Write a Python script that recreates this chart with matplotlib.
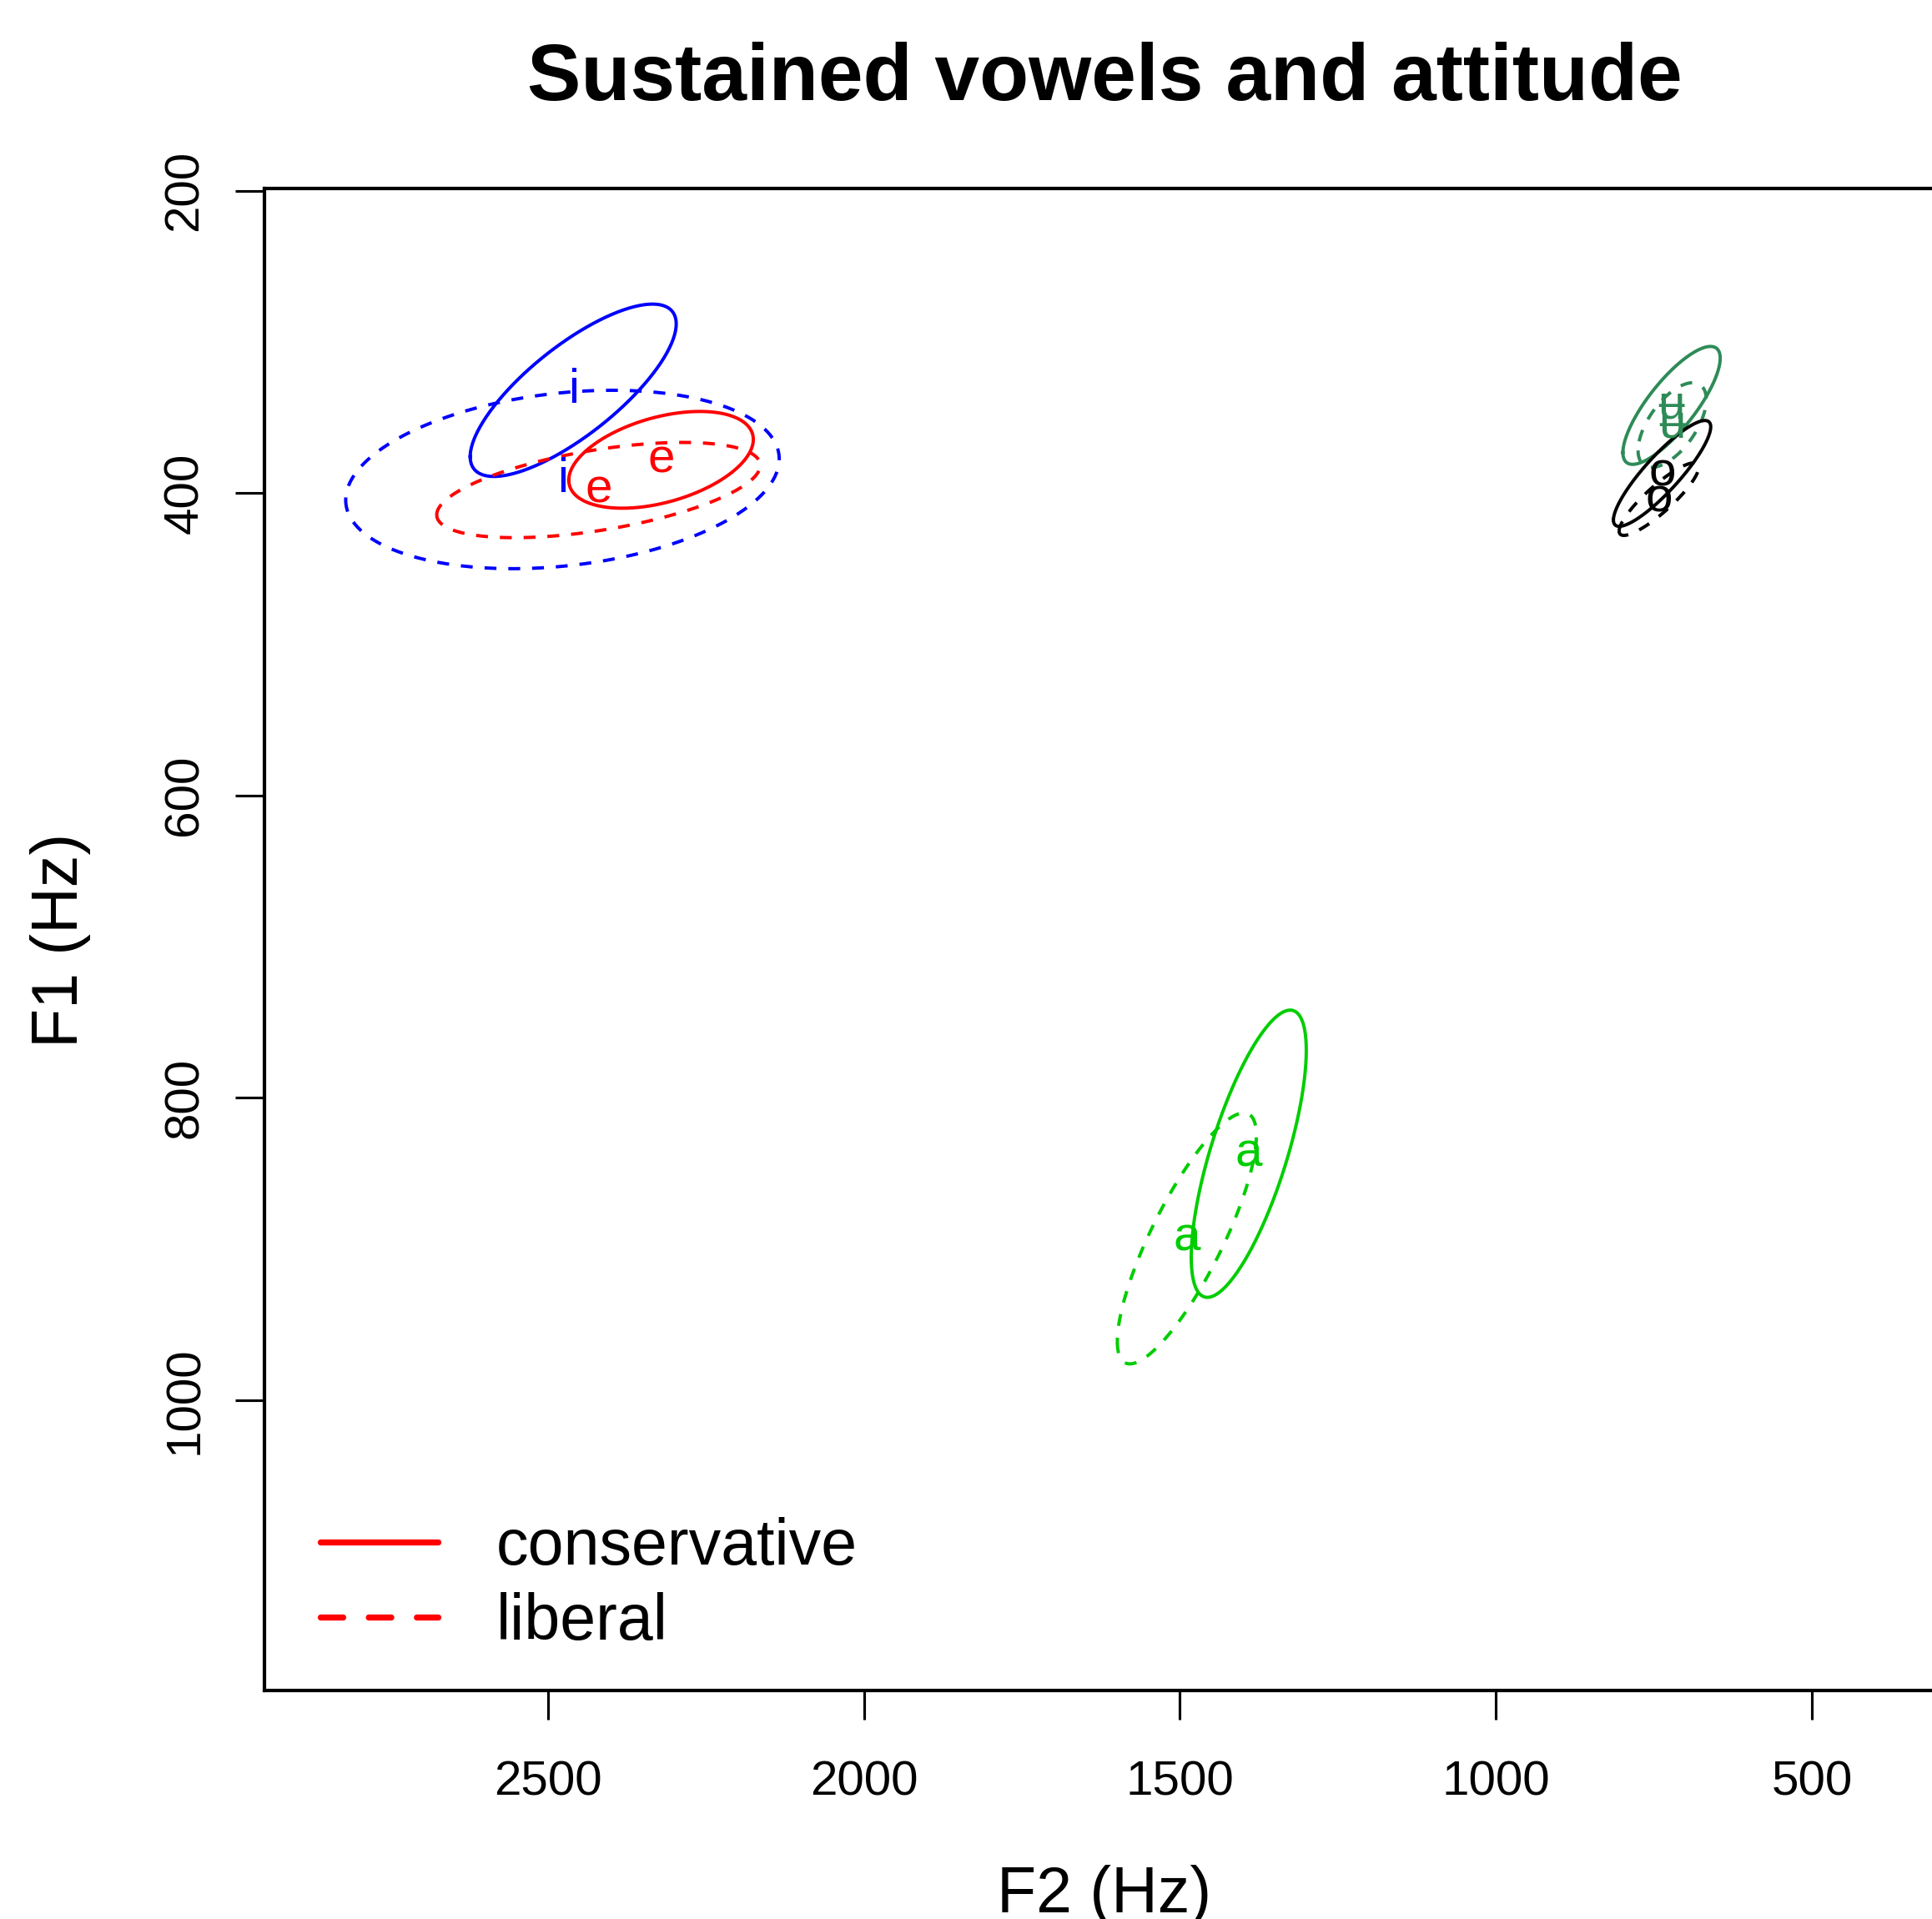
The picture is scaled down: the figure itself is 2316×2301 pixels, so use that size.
import numpy as np
import matplotlib
matplotlib.use("Agg")
import matplotlib.pyplot as plt
from matplotlib.lines import Line2D

plt.rcParams['font.family'] = ['Liberation Sans', 'DejaVu Sans']

# vowel ellipses (Hz)
vowel = ['i', 'i', 'e', 'e', 'a', 'a', 'ʉ', 'ʉ', 'o', 'o']
attitude = ['conservative', 'liberal'] * 5
f2_mean = [2460, 2477, 2321, 2420, 1391, 1489, 722, 721, 737, 742]
f1_mean = [332, 391, 378, 398, 837, 893, 342, 355, 387, 404]
f2_spread = [163, 343, 146, 256, 91, 110, 77, 54, 77, 63]
f1_spread = [57, 59, 32, 31.5, 95, 83, 39, 28, 35, 24]
corr = [0.77, 0.23, 0.42, 0.52, 0.72, 0.82, 0.80, 0.60, 0.88, 0.88]

colours = {'i': 'blue', 'e': 'red', 'a': '#00CD00', 'ʉ': '#2E8B57', 'o': 'black'}

x_ticks = [2500, 2000, 1500, 1000, 500]
y_ticks = [200, 400, 600, 800, 1000]

fig = plt.figure(figsize=(2316 / 300, 2301 / 300), dpi=300)
ax = fig.add_axes([0.1369, 0.1191, 0.8696, 0.7827])

t = np.linspace(0, 2 * np.pi, 300)
for v, att, cx, cy, sx, sy, r in zip(vowel, attitude, f2_mean, f1_mean,
                                     f2_spread, f1_spread, corr):
    xs = cx + sx * np.cos(t)
    ys = cy + sy * (r * np.cos(t) + np.sqrt(1 - r ** 2) * np.sin(t))
    line, = ax.plot(xs, ys, color=colours[v], lw=0.95)
    if att == 'liberal':
        line.set_dashes((3.6, 3.6))
    ax.annotate(v, (cx, cy), xytext=(0, -3.6), textcoords='offset points',
                ha='center', va='baseline', fontsize=14, color=colours[v])

ax.set_xlim(2948.5, 290)
ax.set_ylim(1192, 198.5)
ax.set_xticks(x_ticks)
ax.set_yticks(y_ticks)
ax.set_yticklabels([str(y) for y in y_ticks], rotation=90, va='center')
ax.tick_params(direction='out', length=8.4, width=0.75, labelsize=14)
ax.tick_params(axis='x', pad=11.7)
ax.tick_params(axis='y', pad=8)
for s in ax.spines.values():
    s.set_linewidth(1.0)

fig.text(0.5717, 0.9478, 'Sustained vowels and attitude', fontsize=23.2,
         fontweight='bold', ha='center', va='baseline')
fig.text(0.5717, 0.0035, 'F2 (Hz)', fontsize=18.5, ha='center', va='baseline')
fig.text(0.0402, 0.5102, 'F1 (Hz)', fontsize=18.5, ha='center', va='baseline',
         rotation=90, rotation_mode='anchor')

handles = [Line2D([], [], color='red', lw=1.75, solid_capstyle='round'),
           Line2D([], [], color='red', lw=1.75, dashes=(3.7, 4.2),
                  dash_capstyle='round')]
ax.legend(handles, ['conservative', 'liberal'], loc='lower left',
          bbox_to_anchor=(0.1658, 0.1386), bbox_transform=fig.transFigure,
          frameon=False, fontsize=18.5, handlelength=1.83, handletextpad=0.9,
          labelspacing=0.22, borderpad=0, borderaxespad=0)

fig.savefig('out.png', dpi=300)
